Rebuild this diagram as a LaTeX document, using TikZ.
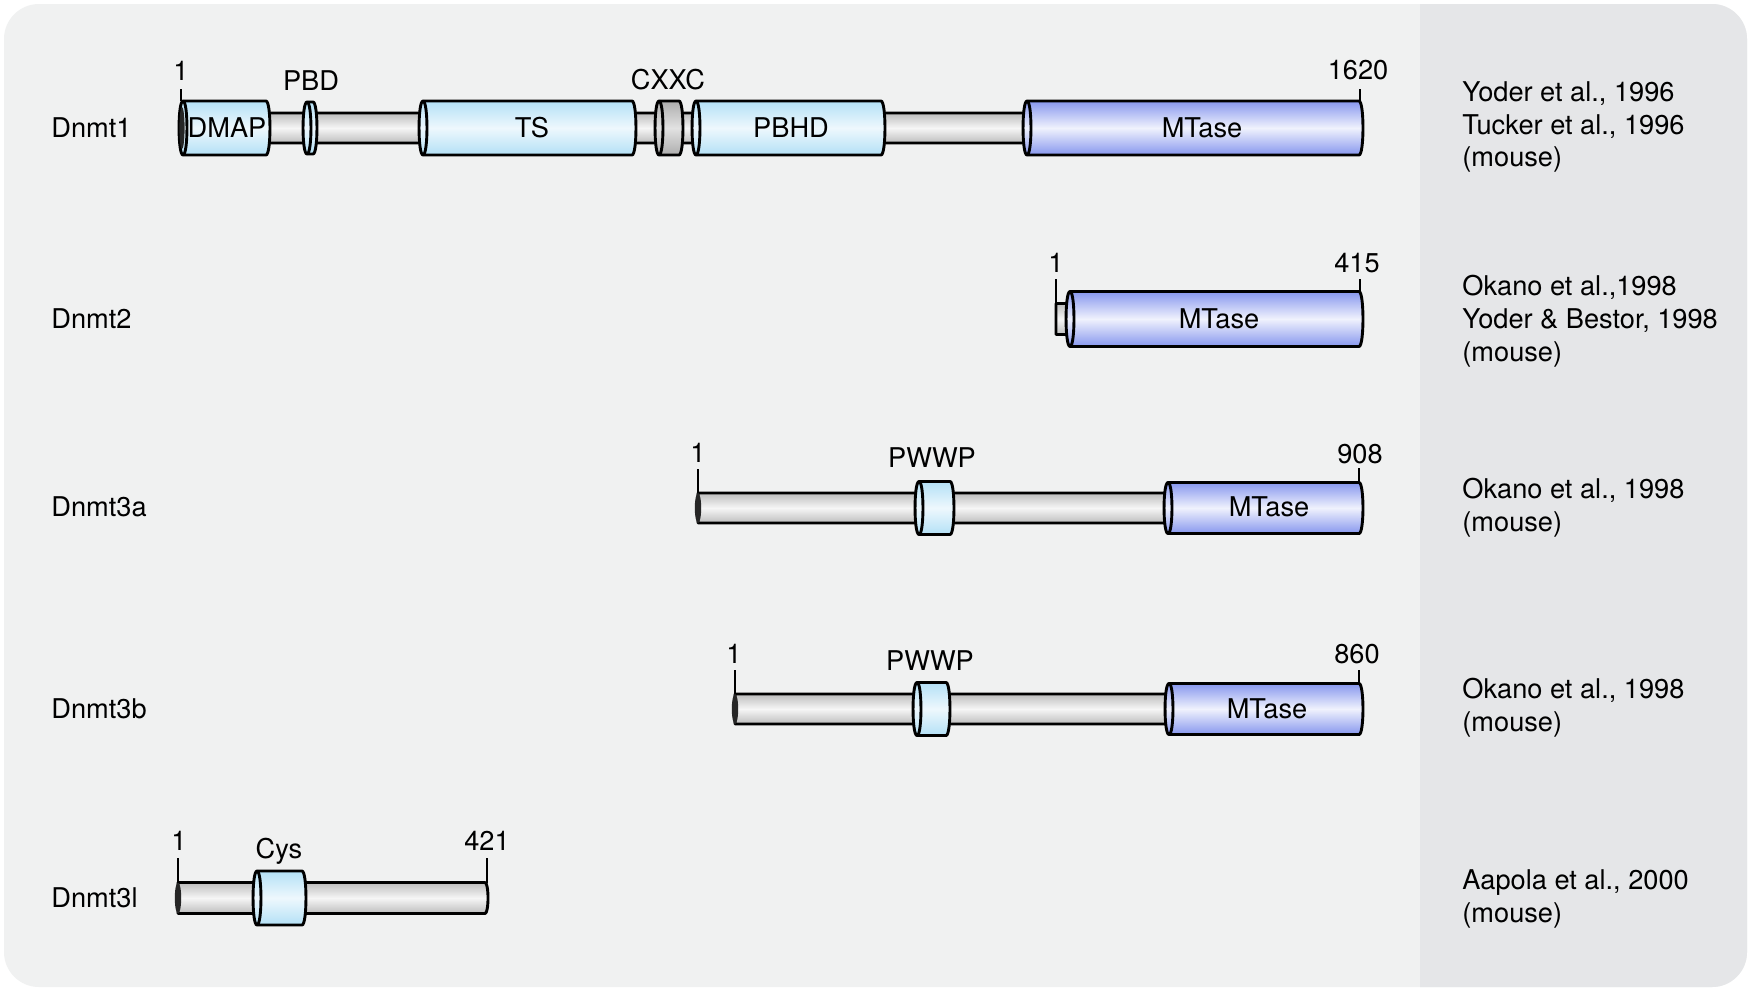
\documentclass[tikz,border=0pt]{standalone}
\usepackage{fontspec}
\setmainfont{TeX Gyre Heros}
\definecolor{bgmain}{HTML}{F0F1F1}
\definecolor{bgpanel}{HTML}{E5E6E8}
\definecolor{lbE}{HTML}{B3E0F6}
\definecolor{lbM}{HTML}{EEF8FD}
\definecolor{mtE}{HTML}{8797EE}
\definecolor{mtM}{HTML}{F0F2FD}
\definecolor{grE}{HTML}{BDBDBD}
\definecolor{grM}{HTML}{F6F6F6}
\definecolor{cxE}{HTML}{ADADAD}
\definecolor{cxM}{HTML}{E2E2E2}
\tikzset{
 outl/.style={draw=black, line width=1.45pt, line join=round},
 lightdom/.style={outl, top color=lbE, bottom color=lbE, middle color=lbM},
 mtdom/.style={outl, top color=mtE, bottom color=mtE, middle color=mtM},
 graybar/.style={outl, top color=grE, bottom color=grE, middle color=grM},
 cxdom/.style={outl, top color=cxE, bottom color=cxE, middle color=cxM},
 ticklne/.style={draw=black, line width=1.45pt},
 txt/.style={font=\fontsize{13.6}{16.4}\selectfont, inner sep=0pt, text=black},
 num/.style={txt, anchor=base},
 rowlbl/.style={txt, anchor=west},
 refs/.style={txt, anchor=west, align=left},
}
% style, x1, x2, cy, h
\newcommand\mydom[5]{%
  \path[#1] (#2,#4-#5) -- (#3,#4-#5) .. controls (#3+5.3,#4-#5) and (#3+5.3,#4+#5) .. (#3,#4+#5) -- (#2,#4+#5) .. controls (#2-5.3,#4+#5) and (#2-5.3,#4-#5) .. (#2,#4-#5) -- cycle;
  \draw[outl] (#2,#4-#5) .. controls (#2+5.3,#4-#5) and (#2+5.3,#4+#5) .. (#2,#4+#5);
}
% x1, x2, cy, h
\newcommand\mybar[4]{%
  \path[graybar] (#1,#3-#4) -- (#2,#3-#4) .. controls (#2+4,#3-#4) and (#2+4,#3+#4) .. (#2,#3+#4) -- (#1,#3+#4) -- cycle;
}
\newcommand\mycap[4]{%
  \fill[black!85] (#1,#2) ellipse [x radius=#4, y radius=#3];
}
\begin{document}
\begin{tikzpicture}[x=0.5pt,y=-0.5pt]
\useasboundingbox (0,0) rectangle (1750,992);
\fill[white] (0,0) rectangle (1750,992);
\fill[bgmain, rounded corners=17.5pt] (4,4) rectangle (1747,987);
\begin{scope}
  \clip[rounded corners=17.5pt] (4,4) rectangle (1747,987);
  \fill[bgpanel] (1420,0) rectangle (1750,992);
\end{scope}

% ---------- Dnmt1 ----------
\node[rowlbl] (n1) at (51,128) {Dnmt1};
\mybar{180}{1030}{128}{15}
\mydom{lightdom}{183}{266}{128}{27}
\mycap{182}{128}{21}{2.6}
\mydom{lightdom}{307}{313}{128}{26}
\mydom{lightdom}{423}{632}{128}{27}
\mydom{cxdom}{659}{679}{128}{27}
\mydom{lightdom}{696}{881}{128}{27}
\mydom{mtdom}{1027}{1359}{128}{27}
\draw[ticklne] (181,89) -- (181,101);
\draw[ticklne] (1360,89) -- (1360,101);
\node[num] (s1) at (181,80) {1};
\node[num] (e1) at (1358,79) {1620};
\node[num] (pbd) at (311,90) {PBD};
\node[num] (cxxc) at (668,89) {CXXC};
\node[txt] (dmap) at (227,128) {DMAP};
\node[txt] (ts) at (532,128) {TS};
\node[txt] (pbhd) at (791,128) {PBHD};
\node[txt] (mt1) at (1202,128) {MTase};
\node[refs] (r1) at (1462,127) {Yoder et al., 1996\\Tucker et al., 1996\\(mouse)};

% ---------- Dnmt2 ----------
\node[rowlbl] (n2) at (51,319) {Dnmt2};
\mybar{1056}{1075}{319}{15.5}
\mydom{mtdom}{1070}{1359}{319}{27.5}
\draw[ticklne] (1056,279) -- (1056,303.5);
\draw[ticklne] (1360,279) -- (1360,291.5);
\node[num] (s2) at (1056,272) {1};
\node[num] (e2) at (1357,272) {415};
\node[txt] (mt2) at (1219,319) {MTase};
\node[refs] (r2) at (1462,321) {Okano et al.,1998\\Yoder \& Bestor, 1998\\(mouse)};

% ---------- Dnmt3a ----------
\node[rowlbl] (n3) at (51,507) {Dnmt3a};
\mybar{698}{1175}{508}{15}
\mycap{698}{508}{15}{3.2}
\mydom{lightdom}{919}{950}{508}{26.5}
\mydom{mtdom}{1168}{1359}{508}{25.5}
\draw[ticklne] (698,469) -- (698,493);
\draw[ticklne] (1359,468) -- (1359,482.5);
\node[num] (s3) at (698,462) {1};
\node[num] (e3) at (1360,463) {908};
\node[num] (pw3) at (932,467) {PWWP};
\node[txt] (mt3) at (1269,507) {MTase};
\node[refs] (r3) at (1462,508) {Okano et al., 1998\\(mouse)};

% ---------- Dnmt3b ----------
\node[rowlbl] (n4) at (51,709) {Dnmt3b};
\mybar{735}{1175}{709}{15}
\mycap{735}{709}{15}{3.2}
\mydom{lightdom}{917}{946}{709}{26.5}
\mydom{mtdom}{1169}{1359}{709}{25.5}
\draw[ticklne] (735,670) -- (735,694);
\draw[ticklne] (1359,670) -- (1359,683.5);
\node[num] (s4) at (734,663) {1};
\node[num] (e4) at (1357,663) {860};
\node[num] (pw4) at (930,670) {PWWP};
\node[txt] (mt4) at (1267,709) {MTase};
\node[refs] (r4) at (1462,708) {Okano et al., 1998\\(mouse)};

% ---------- Dnmt3l ----------
\node[rowlbl] (n5) at (51,898) {Dnmt3l};
\mybar{178}{485}{898}{15.5}
\mycap{178}{898}{15.5}{3.2}
\mydom{lightdom}{257}{302}{898}{27}
\draw[ticklne] (178,858) -- (178,882.5);
\draw[ticklne] (487,858) -- (487,882.5);
\node[num] (s5) at (179,850) {1};
\node[num] (e5) at (487,850) {421};
\node[num] (cys) at (279,858) {Cys};
\node[refs] (r5) at (1462,899) {Aapola et al., 2000\\(mouse)};
\end{tikzpicture}
\end{document}
